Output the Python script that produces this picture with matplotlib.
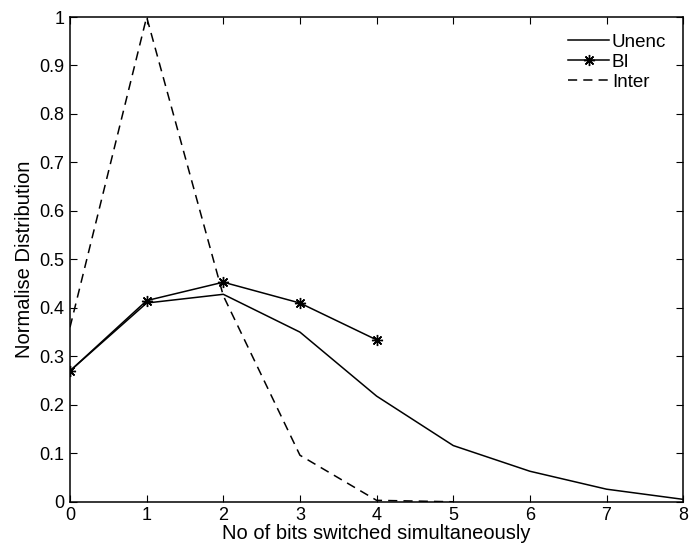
import matplotlib.pyplot as plt

plt.rcParams['font.family'] = ['Liberation Sans', 'DejaVu Sans']

bits = [0, 1, 2, 3, 4, 5, 6, 7, 8]
unenc = [0.27, 0.41, 0.428, 0.35, 0.218, 0.116, 0.063, 0.026, 0.005]
bi_bits = [0, 1, 2, 3, 4]
bi = [0.27, 0.415, 0.453, 0.41, 0.334]
inter_bits = [0, 1, 2, 3, 4, 5]
inter = [0.36, 1.0, 0.425, 0.096, 0.003, 0.0]


def plot_dist():
    fig = plt.figure(figsize=(7, 5.49), dpi=100)
    ax = fig.add_axes([0.1, 0.086, 0.876, 0.883])

    ax.plot(bits, unenc, color='black', lw=1.1, label='Unenc')
    ax.plot(bi_bits, bi, color='black', lw=1.1, marker=(8, 2, 0), markersize=8,
            markeredgewidth=1.0, label='BI')
    ax.plot(inter_bits, inter, color='black', lw=1.1, ls=(0, (6, 4)), label='Inter')

    ax.set_xlim(0, 8)
    ax.set_ylim(0, 1)
    ax.set_xticks(range(9))
    ax.set_yticks([i / 10 for i in range(11)])
    ax.set_yticklabels(['0', '0.1', '0.2', '0.3', '0.4', '0.5', '0.6', '0.7',
                        '0.8', '0.9', '1'])
    ax.tick_params(direction='in', top=True, right=True, labelsize=13,
                   length=5, pad=4)
    for s in ax.spines.values():
        s.set_linewidth(1.1)

    ax.set_xlabel('No of bits switched simultaneously', fontsize=14.5, labelpad=0)
    ax.set_ylabel('Normalise Distribution', fontsize=14.5, labelpad=4)
    ax.legend(loc='upper right', frameon=False, fontsize=13.5, handlelength=2.2,
              handletextpad=0.15, labelspacing=0.15, borderaxespad=0.5)
    return fig, ax


fig, ax = plot_dist()
fig.savefig('out.png', dpi=100)
